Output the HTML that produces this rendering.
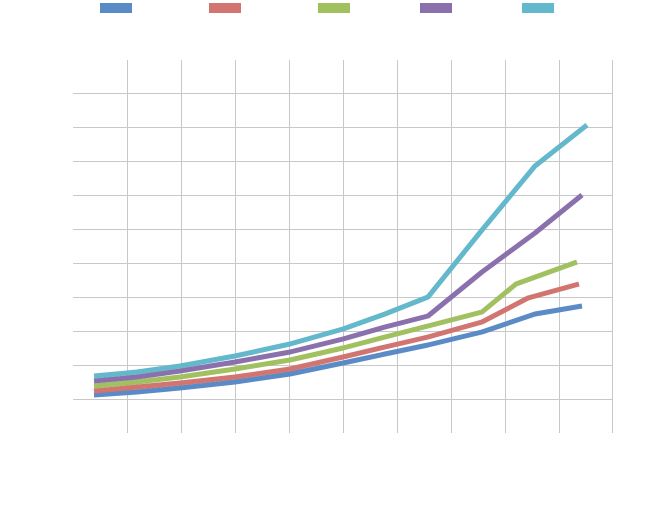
<!DOCTYPE html>
<html><head><style>body{margin:0;background:#fff}svg{display:block}</style></head>
<body>
<svg width="651" height="519" xmlns="http://www.w3.org/2000/svg">
<g stroke="#c8c8c8" stroke-width="1">
<line x1="127.5" y1="60" x2="127.5" y2="433"/><line x1="181.5" y1="60" x2="181.5" y2="433"/>
<line x1="235.5" y1="60" x2="235.5" y2="433"/><line x1="289.5" y1="60" x2="289.5" y2="433"/>
<line x1="343.5" y1="60" x2="343.5" y2="433"/><line x1="397.5" y1="60" x2="397.5" y2="433"/>
<line x1="451.5" y1="60" x2="451.5" y2="433"/><line x1="505.5" y1="60" x2="505.5" y2="433"/>
<line x1="559.5" y1="60" x2="559.5" y2="433"/><line x1="612.5" y1="60" x2="612.5" y2="433"/>
<line x1="73" y1="93.5" x2="612" y2="93.5"/><line x1="73" y1="127.5" x2="612" y2="127.5"/>
<line x1="73" y1="161.5" x2="612" y2="161.5"/><line x1="73" y1="195.5" x2="612" y2="195.5"/>
<line x1="73" y1="229.5" x2="612" y2="229.5"/><line x1="73" y1="263.5" x2="612" y2="263.5"/>
<line x1="73" y1="297.5" x2="612" y2="297.5"/><line x1="73" y1="331.5" x2="612" y2="331.5"/>
<line x1="73" y1="365.5" x2="612" y2="365.5"/><line x1="73" y1="399.5" x2="612" y2="399.5"/>
</g>
<rect x="100" y="3" width="32" height="10" fill="#5b8bc6"/>
<rect x="209" y="3" width="32" height="10" fill="#d27570"/>
<rect x="318" y="3" width="32" height="10" fill="#a1c060"/>
<rect x="420" y="3" width="32" height="10" fill="#8a70ac"/>
<rect x="522" y="3" width="32" height="10" fill="#63b8cc"/>
<g fill="none" stroke-width="5" stroke-linejoin="round">
<polyline stroke="#5b8bc6" points="94,395 137,392 180,388 235,382 290,374 343,363 385,354 428,345 482,332 535,314 582,306"/>
<polyline stroke="#d27570" points="94,391 137,387 180,383 235,377 290,369 343,357 385,347 428,337 482,322 528,298 579,284"/>
<polyline stroke="#a1c060" points="94,386 137,382 180,377 235,369 290,360 343,348 385,337 428,326 482,312 516,284 577,262"/>
<polyline stroke="#8a70ac" points="94,381 137,377 180,371 235,362 290,352 343,339 385,327 428,316 482,272 535,233 582,195"/>
<polyline stroke="#63b8cc" points="94,376 137,372 180,366 235,356 290,344 343,329 385,314 428,297 482,230 535,166 587,125"/>
</g>
</svg>
</body></html>
